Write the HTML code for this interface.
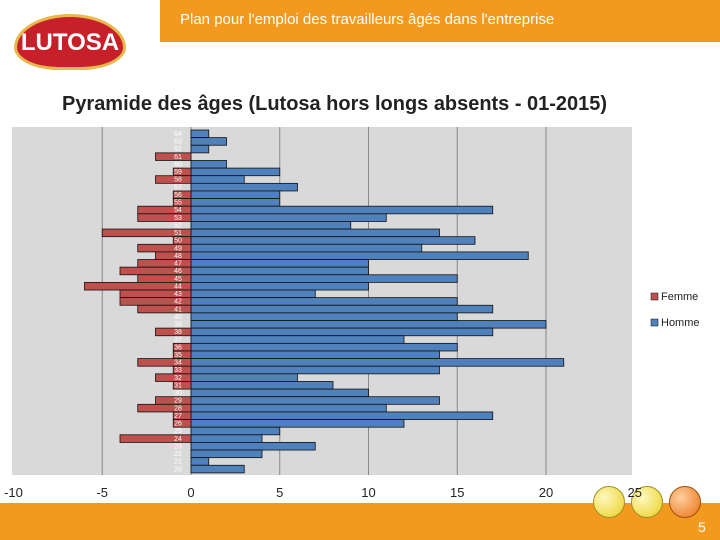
<!DOCTYPE html>
<html><head><meta charset="utf-8"><style>
body{margin:0;width:720px;height:540px;overflow:hidden;background:#fff;font-family:"Liberation Sans",sans-serif;position:relative}
.hdr{position:absolute;left:160px;top:0;width:560px;height:42px;background:#f39a1e;color:#fff;font-size:15px;text-align:left}
.ftr{position:absolute;left:0;top:503px;width:720px;height:37px;background:#f39a1e}
</style></head><body>
<div class="hdr"><div style="position:absolute;left:20px;top:11px">Plan pour l'emploi des travailleurs âgés dans l'entreprise</div></div>
<div style="position:absolute;left:14px;top:14px;width:112px;height:56px;background:#c8202a;border-radius:50% 50% 40% 40%/60% 60% 40% 40%;border:3px solid #e8b84a;box-sizing:border-box;color:#fff;font-weight:bold;font-size:24px;text-align:center;line-height:52px">LUTOSA</div>
<div class="ftr"><div style="position:absolute;left:698px;top:16px;color:#fff;font-size:14px">5</div></div>
<div style="position:absolute;left:593px;top:486px;width:30px;height:30px;border-radius:50%;background:radial-gradient(circle at 35% 35%,#fff8c0,#e8d020);border:1px solid #a09020"></div>
<div style="position:absolute;left:631px;top:486px;width:30px;height:30px;border-radius:50%;background:radial-gradient(circle at 35% 35%,#fff8c0,#e8d020);border:1px solid #a09020"></div>
<div style="position:absolute;left:669px;top:486px;width:30px;height:30px;border-radius:50%;background:radial-gradient(circle at 35% 35%,#ffd0a0,#e87010);border:1px solid #a05010"></div>
<svg id="chart" width="720" height="540" style="position:absolute;left:0;top:0"></svg>
<script>
const ages=[64,63,62,61,60,59,58,57,56,55,54,53,52,51,50,49,48,47,46,45,44,43,42,41,40,39,38,37,36,35,34,33,32,31,30,29,28,27,26,25,24,23,22,21,20];
const homme=[1,2,1,0,2,5,3,6,5,5,17,11,9,14,16,13,19,10,10,15,10,7,15,17,15,20,17,12,15,14,21,14,6,8,10,14,11,17,12,5,4,7,4,1,3];
const femme=[0,0,0,-2,0,-1,-2,0,-1,-1,-3,-3,0,-5,-1,-3,-2,-3,-4,-3,-6,-4,-4,-3,0,0,-2,0,-1,-1,-3,-1,-2,-1,0,-2,-3,-1,-1,0,-4,0,0,0,0];
const xTicks=[-10,-5,0,5,10,15,20,25];
const NS="http://www.w3.org/2000/svg";
const svg=document.getElementById('chart');
const x=v=>191+v*17.75;
const top0=130,rowH=7.62;
const y=i=>top0+i*rowH;
function mk(t,a){const e=document.createElementNS(NS,t);for(const k in a)e.setAttribute(k,a[k]);svg.appendChild(e);return e;}
let t=mk('text',{x:62,y:110,'font-size':20,'font-weight':'bold',fill:'#222',textLength:545,lengthAdjust:'spacingAndGlyphs'});t.textContent='Pyramide des âges (Lutosa hors longs absents - 01-2015)';


let bg=mk('rect',{x:12,y:127,width:620,height:348,fill:'#d9d9d9'});


xTicks.forEach(v=>{
 if(v>-10&&v<25){const g=mk('line',{x1:x(v),x2:x(v),y1:127,y2:475,stroke:'#888','stroke-width':1});
 
 }
 const l=mk('text',{x:x(v),y:497,'text-anchor':'middle','font-size':13,fill:'#222'});l.textContent=v;
 
 
});
ages.forEach((a,i)=>{
 if(homme[i]>0){const r=mk('rect',{x:x(0),y:y(i),width:x(homme[i])-x(0),height:rowH,fill:'#4f81bd',stroke:'#111','stroke-width':0.8});
 
 }
 if(femme[i]<0){const r=mk('rect',{x:x(femme[i]),y:y(i),width:x(0)-x(femme[i]),height:rowH,fill:'#c0504d',stroke:'#111','stroke-width':0.8});
 
 }
 const l=mk('text',{x:178,y:y(i)+6,'text-anchor':'middle','font-size':7,fill:'#fff'});l.textContent=a;
 
 
});
[['Femme','#c0504d',297],['Homme','#4f81bd',323]].forEach(([n,c,yy])=>{
 const r=mk('rect',{x:651,y:yy-4,width:7,height:7,fill:c,stroke:'#111','stroke-width':0.5});
 
 
 const l=mk('text',{x:661,y:yy+3,'font-size':11,fill:'#222'});l.textContent=n;
 
 
});
</script>
</body></html>
